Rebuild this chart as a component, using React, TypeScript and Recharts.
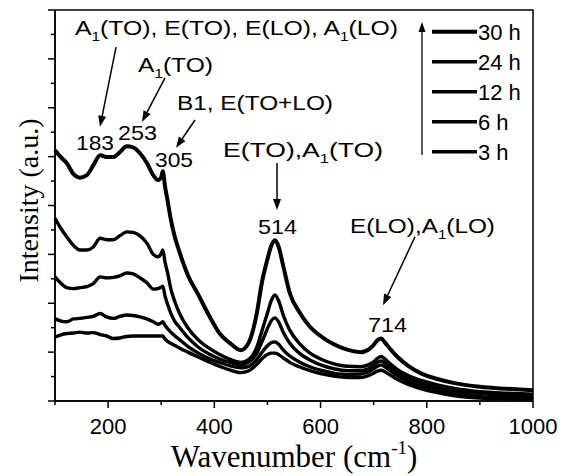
import React from 'react';
import { LineChart, Line, XAxis, YAxis, ReferenceArea, ReferenceLine, ReferenceDot } from 'recharts';

// ---------- data ----------
const wavenumbers = [100,110,122,135,147,160,172,185,197,210,222,235,247,260,273,285,294,300,303,307,312,318,325,335,350,370,390,410,430,450,465,480,490,500,507,514,521,530,542,560,580,600,625,650,675,690,700,707,714,721,730,745,765,790,820,850,900,950,1000];

const h30 = [5.13,5.00,4.87,4.64,4.57,4.62,4.82,5.03,4.99,4.99,
 5.09,5.21,5.19,5.07,4.87,4.62,4.52,4.58,4.70,
 4.40,4.10,3.72,3.38,3.03,2.58,2.17,1.75,1.38,1.18,
 1.04,1.20,1.80,2.45,2.90,3.17,3.29,3.16,2.75,2.21,
 1.82,1.52,1.33,1.16,1.05,1.00,1.05,1.15,1.24,1.28,
 1.20,1.08,0.90,0.72,0.56,0.45,0.37,0.29,0.25,0.22];

const h24 = [3.74,3.55,3.36,3.18,3.09,3.09,3.15,3.33,3.30,3.30,
 3.38,3.46,3.45,3.38,3.23,3.00,2.95,3.02,3.09,
 2.85,2.62,2.30,2.05,1.78,1.50,1.25,1.08,0.95,0.85,
 0.79,0.85,1.10,1.45,1.80,2.05,2.17,2.05,1.75,1.45,
 1.18,0.98,0.86,0.76,0.71,0.70,0.74,0.80,0.87,0.91,
 0.86,0.77,0.64,0.52,0.42,0.33,0.26,0.19,0.16,0.14];

const h12 = [2.54,2.42,2.32,2.30,2.32,2.34,2.40,2.54,2.52,2.53,
 2.56,2.62,2.60,2.52,2.42,2.29,2.30,2.33,2.35,
 2.15,1.98,1.80,1.64,1.50,1.30,1.10,0.96,0.86,0.79,
 0.74,0.80,0.98,1.22,1.48,1.64,1.70,1.62,1.40,1.18,
 0.98,0.84,0.74,0.66,0.62,0.62,0.66,0.73,0.79,0.82,
 0.78,0.70,0.58,0.46,0.36,0.27,0.21,0.15,0.12,0.10];

const h6 = [1.69,1.64,1.62,1.68,1.69,1.71,1.73,1.79,1.72,1.69,
 1.73,1.76,1.75,1.72,1.68,1.62,1.57,1.60,1.62,
 1.55,1.48,1.41,1.34,1.25,1.12,0.98,0.87,0.79,0.72,
 0.68,0.71,0.85,1.00,1.13,1.19,1.21,1.16,1.04,0.92,
 0.80,0.70,0.63,0.57,0.54,0.55,0.60,0.66,0.71,0.74,
 0.70,0.63,0.52,0.40,0.30,0.21,0.15,0.09,0.07,0.055];

const h3 = [1.31,1.35,1.38,1.39,1.41,1.39,1.40,1.36,1.33,1.28,
 1.29,1.32,1.33,1.33,1.33,1.33,1.33,1.33,1.33,
 1.27,1.22,1.18,1.14,1.08,1.00,0.90,0.80,0.71,0.63,
 0.58,0.62,0.75,0.87,0.95,0.98,0.98,0.95,0.88,0.79,
 0.70,0.62,0.56,0.51,0.48,0.48,0.52,0.57,0.61,0.63,
 0.60,0.54,0.44,0.34,0.25,0.17,0.11,0.06,0.045,0.035];

const seriesKeys = ['h30','h24','h12','h6','h3'];
const seriesNames = ['30 h','24 h','12 h','6 h','3 h'];
const seriesWidths = [4,3.4,3.4,3.4,3.4];

const xTicks = [100,200,300,400,500,600,700,800,900,1000];
const yTicks = [0,0.5,1,1.5,2,2.5,3,3.5,4,4.5,5,5.5,6,6.5,7,7.5,8];

// peak / mode annotations (text in data coordinates)
type Part = { t: string; sub?: boolean };
const modeLabels: { parts: Part[]; wn: number; v: number; size: number; len: number }[] = [
  { parts: [{t:'A'},{t:'1',sub:true},{t:'(TO), E(TO), E(LO), A'},{t:'1',sub:true},{t:'(LO)'}], wn: 137.7, v: 7.49, size: 20, len: 323 },
  { parts: [{t:'A'},{t:'1',sub:true},{t:'(TO)'}], wn: 256.3, v: 6.73, size: 20, len: 75 },
  { parts: [{t:'B1, E(TO+LO)'}], wn: 329.7, v: 5.95, size: 20, len: 156 },
  { parts: [{t:'183'}], wn: 139.5, v: 5.14, size: 21, len: 38 },
  { parts: [{t:'253'}], wn: 218.6, v: 5.34, size: 21, len: 39 },
  { parts: [{t:'305'}], wn: 288.3, v: 4.79, size: 21, len: 38 },
  { parts: [{t:'E(TO),A'},{t:'1',sub:true},{t:'(TO)'}], wn: 416.3, v: 4.99, size: 20, len: 160 },
  { parts: [{t:'514'}], wn: 482.2, v: 3.42, size: 21, len: 39 },
  { parts: [{t:'E(LO),A'},{t:'1',sub:true},{t:'(LO)'}], wn: 655.4, v: 3.44, size: 20, len: 145 },
  { parts: [{t:'714'}], wn: 689.3, v: 1.41, size: 21, len: 39 },
];

const arrows = [
  { from: { x: 214.9, y: 7.24 }, to: { x: 184.7, y: 5.61 } },
  { from: { x: 307.1, y: 6.61 }, to: { x: 263.8, y: 5.71 } },
  { from: { x: 363.6, y: 5.75 }, to: { x: 327.8, y: 5.18 } },
  { from: { x: 518, y: 4.87 }, to: { x: 518, y: 3.91 } },
  { from: { x: 777.8, y: 3.36 }, to: { x: 717.6, y: 1.96 } },
];

const data = wavenumbers.map((w, i) => ({
  wn: w, h30: h30[i], h24: h24[i], h12: h12[i], h6: h6[i], h3: h3[i],
}));

const SANS = '"Liberation Sans", Arial, sans-serif';
const SERIF = '"Liberation Serif", "Times New Roman", serif';

const XTick = (props: any) => {
  const { x, y, payload } = props;
  const major = payload.value % 200 === 0;
  return (
    <g>
      <line x1={x} y1={y} x2={x} y2={y + (major ? 7 : 4)} stroke="#000" strokeWidth={1.5} />
      {major && (
        <text x={x} y={y + 17} dy="0.71em" textAnchor="middle" fontFamily={SANS} fontSize={22} fill="#000">
          {payload.value}
        </text>
      )}
    </g>
  );
};

const YTick = (props: any) => {
  const { x, y, payload } = props;
  const major = Number.isInteger(payload.value);
  return <line x1={x} y1={y} x2={x - (major ? 7 : 4)} y2={y} stroke="#000" strokeWidth={1.5} />;
};

const XLabel = (props: any) => {
  const vb = props.viewBox;
  return (
    <text x={vb.x + vb.width / 2} y={vb.y + 66} textAnchor="middle" fontFamily={SERIF} fontSize={31} fill="#000">
      Wavenumber (cm
      <tspan dy={-13} fontSize={19}>-1</tspan>
      <tspan dy={13}>)</tspan>
    </text>
  );
};

const YLabel = (props: any) => {
  const vb = props.viewBox;
  const cx = vb.x + 30;
  const cy = vb.y + vb.height / 2 - 5;
  return (
    <text x={cx} y={cy} transform={`rotate(-90, ${cx}, ${cy})`} textAnchor="middle" fontFamily={SERIF} fontSize={28} fill="#000">
      Intensity (a.u.)
    </text>
  );
};

const makeTextShape = (lab: typeof modeLabels[number]) => (p: any) => {
  let shift = 0;
  const spans = lab.parts.map((part, i) => {
    let dy = 0;
    if (part.sub) { dy = 6 - shift; shift = 6; }
    else { dy = -shift; shift = 0; }
    return (
      <tspan key={i} dy={dy} fontSize={part.sub ? lab.size * 0.62 : lab.size}>{part.t}</tspan>
    );
  });
  return (
    <text x={p.cx} y={p.cy} fontFamily={SANS} fontSize={lab.size} fill="#000"
      textLength={lab.len} lengthAdjust="spacingAndGlyphs">
      {spans}
    </text>
  );
};

const ArrowShape = (p: any) => {
  const { x1, y1, x2, y2 } = p;
  const ang = Math.atan2(y2 - y1, x2 - x1);
  const L = 11, W = 4;
  const bx = x2 - L * Math.cos(ang), by = y2 - L * Math.sin(ang);
  const nx = -Math.sin(ang) * W, ny = Math.cos(ang) * W;
  return (
    <g>
      <line x1={x1} y1={y1} x2={bx} y2={by} stroke="#000" strokeWidth={1.5} />
      <polygon points={`${x2},${y2} ${bx + nx},${by + ny} ${bx - nx},${by - ny}`} fill="#000" />
    </g>
  );
};

const Legend = () => {
  const x0 = 424, x1 = 469, top = 23.7, step = 30;
  return (
    <svg width={552} height={468} style={{ position: 'absolute', left: 0, top: 0, pointerEvents: 'none' }}>
      <line x1={414} y1={147} x2={414} y2={22} stroke="#000" strokeWidth={1.3} />
      <polygon points="414,14 410.5,24 417.5,24" fill="#000" />
      {seriesNames.map((n, i) => (
        <g key={n}>
          <line x1={x0} y1={top + i * step} x2={x1} y2={top + i * step} stroke="#000" strokeWidth={seriesWidths[i]} />
          <text x={x1 + 1} y={top + i * step + 8} fontFamily={SANS} fontSize={22} fill="#000">{n}</text>
        </g>
      ))}
    </svg>
  );
};

export default function App() {
  return (
    <div style={{ position: 'relative', width: 552, height: 468 }}>
      <LineChart width={552} height={468} data={data} margin={{ top: 2, right: 27, bottom: 0, left: 0 }}>
        <XAxis dataKey="wn" type="number" domain={[100, 1000]} ticks={xTicks} interval={0}
          tickSize={0} tickMargin={0} tickLine={false} tick={<XTick />} height={75}
          axisLine={{ stroke: '#000', strokeWidth: 1.5 }} label={<XLabel />} />
        <YAxis type="number" domain={[0, 8]} ticks={yTicks} interval={0} width={47}
          tickSize={0} tickMargin={0} tickLine={false} tick={<YTick />}
          axisLine={{ stroke: '#000', strokeWidth: 1.5 }} label={<YLabel />} />
        <ReferenceArea x1={100} x2={1000} y1={0} y2={8} fill="none" fillOpacity={0} stroke="#000" strokeWidth={1.5} />
        {seriesKeys.map((k, i) => (
          <Line key={k} dataKey={k} name={seriesNames[i]} type="monotone" stroke="#000"
            strokeWidth={seriesWidths[i]} dot={false} isAnimationActive={false} />
        ))}
        {arrows.map((a, i) => (
          <ReferenceLine key={'a' + i} segment={[a.from, a.to]} shape={ArrowShape} />
        ))}
        {modeLabels.map((lab, i) => (
          <ReferenceDot key={'t' + i} x={lab.wn} y={lab.v} r={0} shape={makeTextShape(lab)} />
        ))}
      </LineChart>
      <Legend />
    </div>
  );
}
